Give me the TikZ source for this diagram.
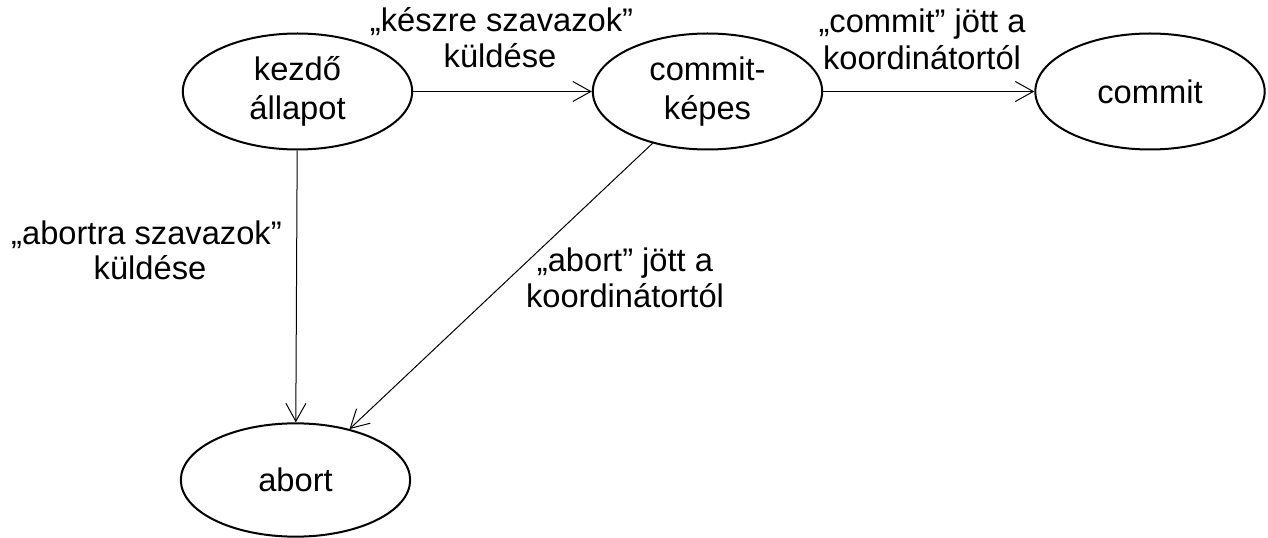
\documentclass[tikz,border=0pt]{standalone}
\usepackage{fontspec}
\setmainfont{Liberation Sans}
\usetikzlibrary{shapes.geometric,arrows.meta}
\begin{document}
\begin{tikzpicture}[x=0.75pt,y=-0.75pt,
  state/.style={ellipse,draw,line width=1.5pt,inner sep=0pt,minimum width=172pt,minimum height=87pt,align=center,font=\fontsize{24.5}{29}\selectfont},
  lbl/.style={anchor=base,inner sep=0pt,font=\fontsize{24.5}{29}\selectfont},
  conn/.style={line width=0.75pt,-{Straight Barb[length=13.5pt,width=15pt]}}]
\useasboundingbox (0,0) rectangle (1268,538);
\node[state] (kz) at (297.5,91.5) {kezdő\\állapot};
\node[state] (ck) at (707.5,91.5) {commit-\\képes};
\node[state] (cm) at (1150,91.5) {commit};
\node[state,minimum height=85pt] (ab) at (295.5,480) {abort};
\draw[conn] (kz) -- (ck);
\draw[conn] (ck) -- (cm);
\draw[conn] (kz) -- (ab);
\draw[conn] (ck) -- (ab);
\node[lbl] (l1a) at (501.5,32) {„készre szavazok”};
\node[lbl] (l1b) at (500,68) {küldése};
\node[lbl] (l2a) at (922,33) {„commit” jött a};
\node[lbl] (l2b) at (922,70) {koordinátortól};
\node[lbl] (l3a) at (146.5,245) {„abortra szavazok”};
\node[lbl] (l3b) at (150,280) {küldése};
\node[lbl] (l4a) at (625,272) {„abort” jött a};
\node[lbl] (l4b) at (625,308) {koordinátortól};
\end{tikzpicture}
\end{document}
